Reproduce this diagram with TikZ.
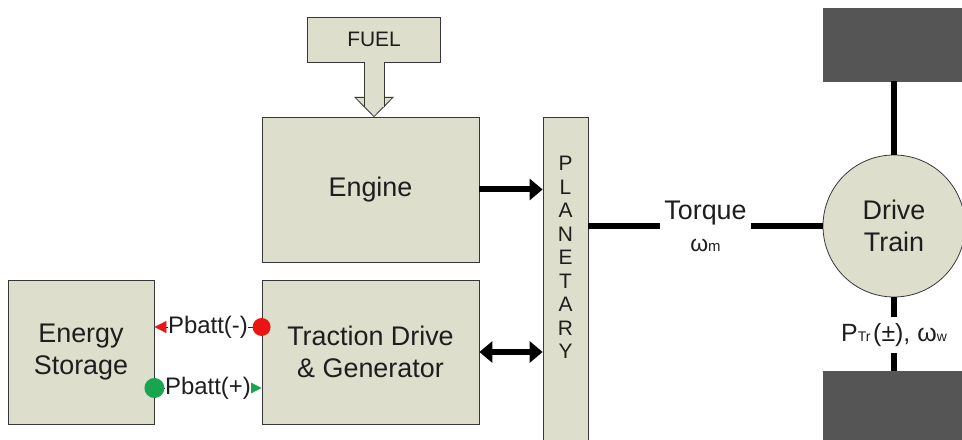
\documentclass[tikz,border=0pt]{standalone}
\usepackage{fontspec}
\setmainfont{Liberation Sans}
\usetikzlibrary{arrows.meta,calc}
\definecolor{boxfill}{RGB}{221,222,203}
\definecolor{boxline}{RGB}{55,55,55}
\definecolor{wheel}{RGB}{85,85,85}
\definecolor{txt}{RGB}{30,30,30}
\definecolor{pred}{RGB}{235,20,20}
\definecolor{pgreen}{RGB}{25,165,80}
\begin{document}
\begin{tikzpicture}[x=1bp,y=-1bp,
  blk/.style={draw=boxline, fill=boxfill, line width=0.8bp, inner sep=0, align=center, text=txt, font=\fontsize{27}{32}\selectfont},
  shaftline/.style={line width=6.5bp, black},
  fwdarrow/.style={line width=6bp, -{Triangle[length=13bp,width=21bp]}},
  botharrow/.style={line width=6bp, {Triangle[length=13bp,width=21bp]}-{Triangle[length=13bp,width=21bp]}},
  wheelbox/.style={draw=wheel, fill=wheel, inner sep=0, anchor=north west, minimum width=150bp},
  plabel/.style={fill=white, inner sep=0, text=txt, font=\fontsize{24}{24}\selectfont},
  pdot/.style={circle, inner sep=0, draw=none}
]
\useasboundingbox (0,0) rectangle (962,440);

% blocks
\node[blk, minimum width=133bp, minimum height=45bp, font=\fontsize{21}{21}\selectfont] (fuel) at (374,39.5) {FUEL};
\node[blk, minimum width=217bp, minimum height=145bp] (eng) at (370.5,189.5) {Engine};
\node[blk, minimum width=217bp, minimum height=144bp] (trac) at (370.5,352) {Traction Drive\\\& Generator};
\node[blk, minimum width=146bp, minimum height=144bp] (stor) at (81,352) {Energy\\Storage};
\node[blk, anchor=north, minimum width=45bp, minimum height=335bp] (plan) at (565.5,117) {};
\node[inner sep=0, align=center, text=txt, font=\fontsize{21}{23.6}\selectfont] (plantxt) at (565.5,257.5) {P\\L\\A\\N\\E\\T\\A\\R\\Y};
\node[blk, circle, minimum size=142bp] (drive) at (894,226) {Drive\\Train};
\node[wheelbox, minimum height=73bp] (wtop) at (823,8) {};
\node[wheelbox, minimum height=80bp] (wbot) at (823,371) {};

% fuel block arrow
\filldraw[fill=boxfill, draw=boxline, line width=0.8bp]
  ($(fuel.south)+(-19,35)$) -- ($(fuel.south)+(19,35)$) -- (eng.north -| fuel.south) -- cycle;
\fill[boxfill] ($(fuel.south)+(-10,-0.6)$) rectangle ($(fuel.south)+(10,44.5)$);
\draw[boxline, line width=0.8bp] ($(fuel.south)+(-10,0)$) -- ($(fuel.south)+(-10,44.5)$);
\draw[boxline, line width=0.8bp] ($(fuel.south)+(10,0)$) -- ($(fuel.south)+(10,44.5)$);

% engine and traction to planetary
\draw[fwdarrow] (eng.east) -- (eng.east -| plan.west);
\draw[botharrow] (trac.east) -- (trac.east -| plan.west);

% planetary to drive train
\node[fill=white, inner xsep=2bp, inner ysep=0, align=center, minimum width=91bp, text=txt, font=\fontsize{27}{32}\selectfont] (torq) at (705.5,226)
  {Torque\\{\fontsize{23}{32}\selectfont ω}{\fontsize{15}{32}\selectfont m}};
\draw[shaftline] (plan.east |- torq.west) -- (torq.west);
\draw[shaftline] (torq.east) -- (drive.west);

% drive train to wheels
\draw[shaftline] (drive.north) -- (drive.north |- wtop.south);
\node[fill=white, inner xsep=1bp, inner ysep=0, minimum height=35bp, text=txt] (ptr) at (894,335)
  {{\fontsize{25}{25}\selectfont P}{\fontsize{14}{14}\selectfont Tr} {\fontsize{25}{25}\selectfont (±), ω}{\fontsize{14}{14}\selectfont w}};
\draw[shaftline] (drive.south) -- (ptr.north);
\draw[shaftline] (ptr.south) -- (ptr.south |- wbot.north);

% battery power flows
\coordinate (rm) at ($(trac.west)+(0,-25)$);
\coordinate (gp) at ($(stor.east)+(0,36)$);
\draw[txt, line width=0.8bp, {Triangle[length=12bp,width=12bp,color=pred,fill=pred]}-] (stor.east |- rm) -- (rm)
  node[plabel, midway] (pminus) {Pbatt(-)};
\node[pdot, fill=pred, minimum size=18bp] (rdot) at (rm) {};
\draw[txt, line width=0.8bp, -{Triangle[length=11bp,width=11bp,color=pgreen,fill=pgreen]}] (gp) -- (gp -| trac.west)
  node[plabel, midway] (pplus) {Pbatt(+)};
\node[pdot, fill=pgreen, minimum size=20bp] (gdot) at (gp) {};
\end{tikzpicture}
\end{document}
